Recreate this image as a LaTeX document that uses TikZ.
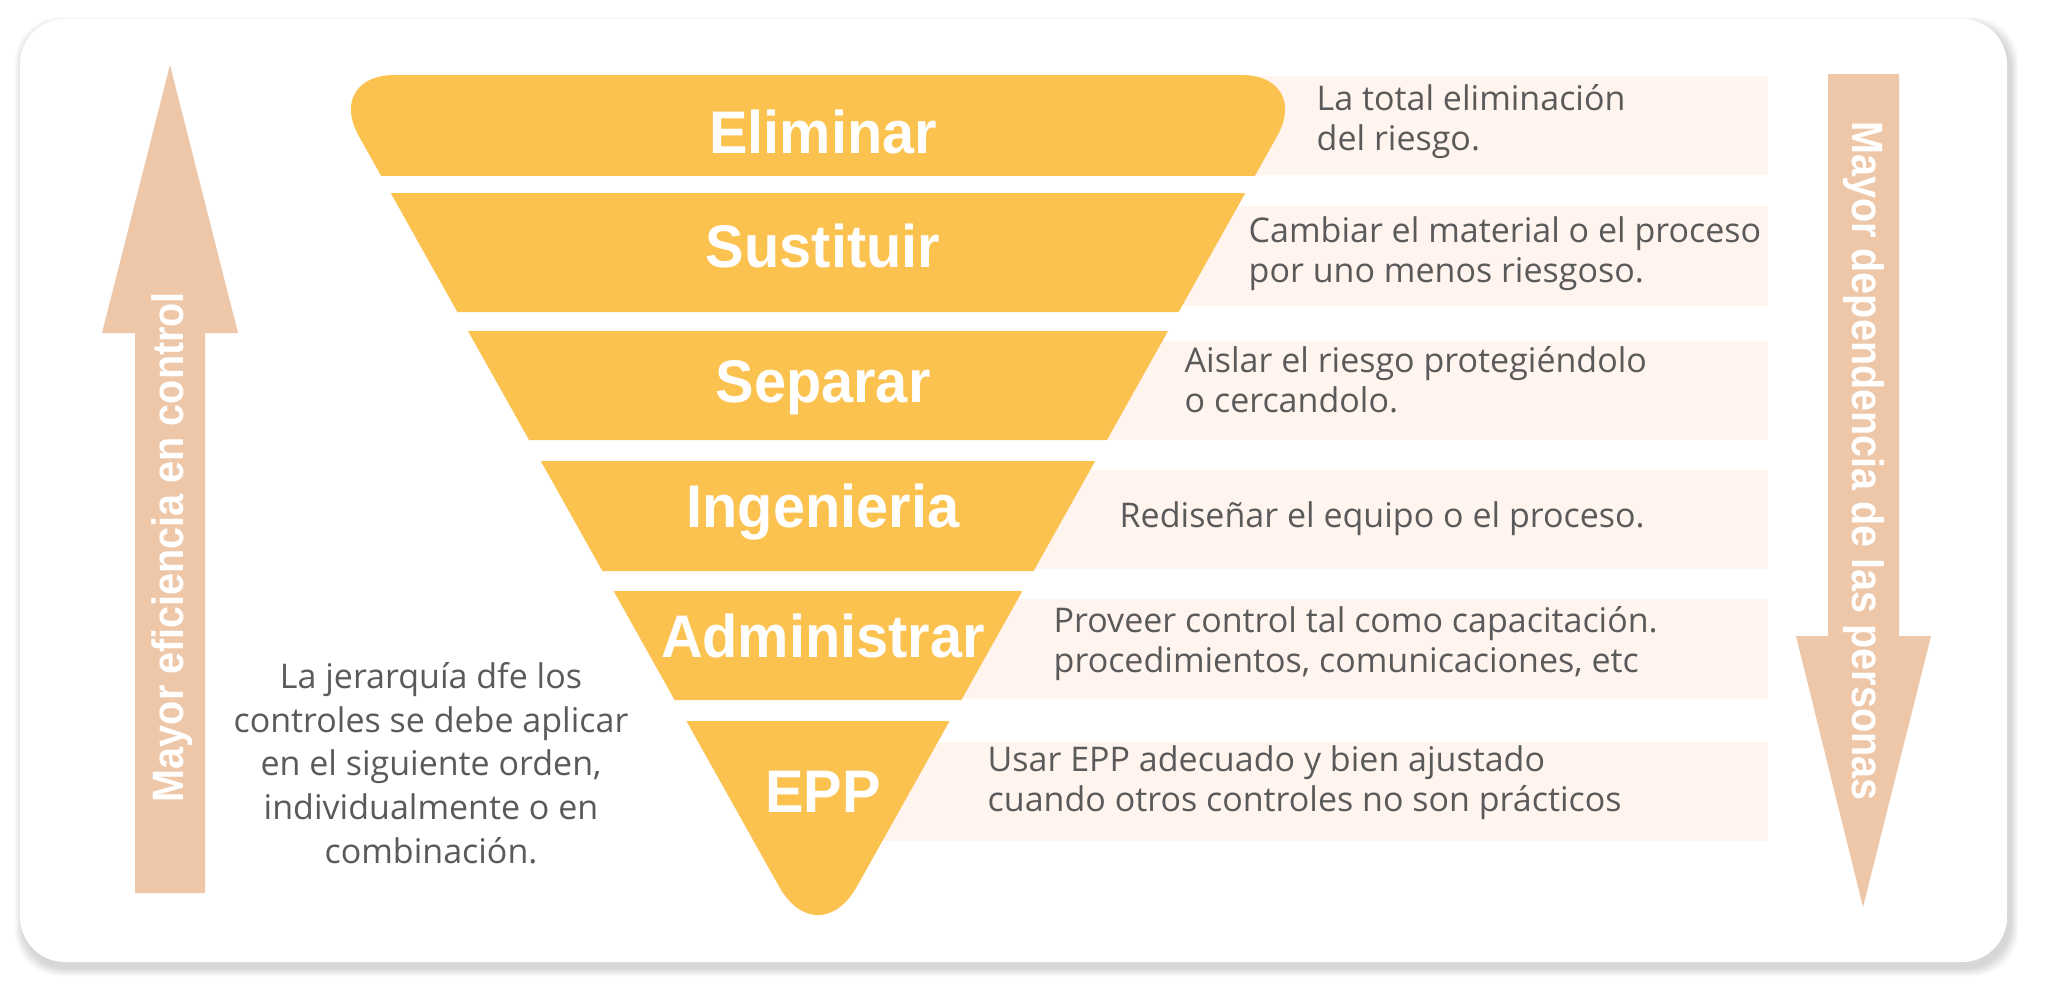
\documentclass[tikz,border=0pt]{standalone}
\usepackage{fontspec}
\setmainfont{Open Sans}
\newfontfamily\labelfont[FakeStretch=0.96]{Liberation Sans}
\newfontfamily\arrowfont[FakeStretch=0.9]{Liberation Sans}
\usetikzlibrary{positioning}
\definecolor{funnelColor}{RGB}{252,194,80}
\definecolor{arrowColor}{RGB}{238,199,169}
\definecolor{boxColor}{RGB}{255,244,238}
\definecolor{textColor}{RGB}{90,90,90}
\tikzset{
    funnel/.style={fill=funnelColor},
    bigarrow/.style={fill=arrowColor},
    descbox/.style={fill=boxColor},
    layerlabel/.style={
        text=white,
        inner sep=0pt,
        anchor=base,
        font=\labelfont\bfseries\fontsize{17.1pt}{20pt}\selectfont
    },
    arrowlabel/.style={
        text=white,
        inner sep=0pt,
        font=\arrowfont\bfseries\fontsize{12.5pt}{15pt}\selectfont
    },
    desctext/.style={
        text=textColor,
        inner sep=0pt,
        anchor=base west,
        align=left,
        font=\fontsize{9.67pt}{11.24pt}\selectfont
    }
}

\begin{document}
\begin{tikzpicture}[x=0.01cm, y=-0.01cm]
    \useasboundingbox (0,0) rectangle (2048,1000);
    \fill[white] (0,0) rectangle (2048,1000);
    % card with soft shadow
    \foreach \s in {1,...,8}
        \fill[black, opacity=0.018, rounded corners=0.45cm] ({20-\s+3},{19-\s+6}) rectangle ({2007+\s+3},{962+\s+6});
    \fill[white, rounded corners=0.45cm] (20,19) rectangle (2007,962);

    % side arrows
    \fill[bigarrow] (170,65) -- (238,333) -- (205,333) -- (205,893) -- (135,893) -- (135,333) -- (102,333) -- cycle;
    \node[arrowlabel, rotate=90] (eficiencia) at (172,547) {Mayor eficiencia en control};
    \fill[bigarrow] (1828,74) -- (1899,74) -- (1899,636) -- (1931,636) -- (1863,907) -- (1796,636) -- (1828,636) -- cycle;
    \node[arrowlabel, rotate=-90] (dependencia) at (1864,461) {Mayor dependencia de las personas};

    % description boxes (behind the funnel)
    \foreach \ytop/\ybot in {76/175, 206/306, 341/440, 470/569, 599/699, 742/841}
        \fill[descbox] (818,\ytop) rectangle (1768,\ybot);

    % funnel
    \begin{scope}
        \clip (0,0) rectangle (2048,175);
        \fill[funnel, rounded corners=0.7cm] ({818-0.56*(956-75)},75) -- ({818+0.56*(956-75)},75)
            -- ({818+0.56*(956-300)},300) -- ({818-0.56*(956-300)},300) -- cycle;
    \end{scope}
    \foreach \ytop/\ybot in {193/312, 331/440, 461/571, 591/700}
        \fill[funnel] ({818-0.56*(956-\ytop)},\ytop) -- ({818+0.56*(956-\ytop)},\ytop)
            -- ({818+0.56*(956-\ybot)},\ybot) -- ({818-0.56*(956-\ybot)},\ybot) -- cycle;
    \begin{scope}
        \clip (0,721) rectangle (2048,1000);
        \fill[funnel, rounded corners=0.8cm] ({818-0.56*(956-600)},600) -- ({818+0.56*(956-600)},600) -- (818,956) -- cycle;
    \end{scope}

    \node[layerlabel] (eliminar) at (823,153) {Eliminar};
    \node[layerlabel] (sustituir) at (823,267) {Sustituir};
    \node[layerlabel] (separar) at (823,402) {Separar};
    \node[layerlabel] (ingenieria) at (823,527) {Ingenieria};
    \node[layerlabel] (administrar) at (823,657) {Administrar};
    \node[layerlabel] (epp) at (823,812) {EPP};

    % descriptions (base = last line)
    \node[desctext] (descEliminar) at (1316,150) {La total eliminación\\del riesgo.};
    \node[desctext] (descSustituir) at (1248,282) {Cambiar el material o el proceso\\por uno menos riesgoso.};
    \node[desctext] (descSeparar) at (1184,412) {Aislar el riesgo protegiéndolo\\o cercandolo.};
    \node[desctext] (descIngenieria) at (1119,527) {Rediseñar el equipo o el proceso.};
    \node[desctext] (descAdministrar) at (1053,672) {Proveer control tal como capacitación.\\procedimientos, comunicaciones, etc};
    \node[desctext] (descEpp) at (987,811) {Usar EPP adecuado y bien ajustado\\cuando otros controles no son prácticos};

    \node[desctext, anchor=base, align=center, font=\fontsize{9.67pt}{12.4pt}\selectfont] (jerarquia) at (431,863)
        {La jerarquía dfe los\\controles se debe aplicar\\en el siguiente orden,\\individualmente o en\\combinación.};
\end{tikzpicture}
\end{document}
